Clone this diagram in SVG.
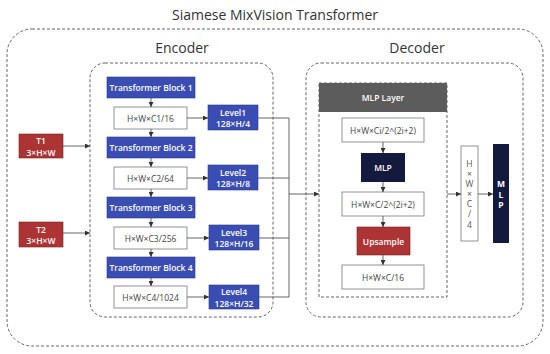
<svg xmlns="http://www.w3.org/2000/svg" width="550" height="354" viewBox="0 0 550 354">
<style>
text{font-family:"Open Sans","Noto Sans","Liberation Sans",sans-serif;text-anchor:middle;dominant-baseline:central}
.title{font-size:14px;fill:#333}
.dash{fill:none;stroke:#555;stroke-width:0.9;stroke-dasharray:3 2}
.blue{fill:#3a4db3;stroke:#2a3890;stroke-width:0.6}
.red{fill:#ad3434;stroke:#7d2222;stroke-width:0.6}
.navy{fill:#141a3e}
.gray{fill:#5c5c5c}
.wbox{fill:#fff;stroke:#777;stroke-width:0.8}
.wt{fill:#fff;font-size:8.5px;font-weight:600}
.bt{fill:#444;font-size:8.5px}
.vt{fill:#555;font-size:8.5px}
.conn{fill:none;stroke:#555;stroke-width:0.9}
</style>
<defs>
<marker id="ah" viewBox="0 0 6 6" refX="6" refY="3" markerWidth="5" markerHeight="5" orient="auto" markerUnits="userSpaceOnUse">
<path d="M0,0L6,3L0,6z" fill="#333"/>
</marker>
</defs>
<rect width="550" height="354" fill="#fff"/>
<text class="title" x="275" y="14">Siamese MixVision Transformer</text>
<rect class="dash" x="7" y="29" width="536" height="317" rx="25"/>
<text class="title" x="182" y="47">Encoder</text>
<text class="title" x="417" y="47">Decoder</text>
<rect class="dash" x="90" y="63" width="183" height="254" rx="15"/>
<rect class="dash" x="306" y="63" width="217" height="254" rx="15"/>
<g id="mlp-layer">
<rect class="dash" x="319" y="83" width="128" height="214"/>
<rect class="gray" x="319" y="83" width="128" height="29"/>
<text class="wt" x="383" y="97.5">MLP Layer</text>
</g>
<g id="t1"><rect class="red" x="19" y="134" width="44" height="24"/><text class="wt" x="41" y="140.5">T1<tspan x="41" dy="11">3×H×W</tspan></text></g>
<g id="t2"><rect class="red" x="19" y="222" width="44" height="25"/><text class="wt" x="41" y="229">T2<tspan x="41" dy="11">3×H×W</tspan></text></g>
<g id="tb1"><rect class="blue" x="107" y="77" width="88" height="21"/><text class="wt" x="151" y="87.5">Transformer Block 1</text></g>
<g id="f1"><rect class="wbox" x="114" y="107" width="73" height="22"/><text class="bt" x="150.5" y="118">H×W×C1/16</text></g>
<g id="tb2"><rect class="blue" x="107" y="137" width="88" height="21"/><text class="wt" x="151" y="147.5">Transformer Block 2</text></g>
<g id="f2"><rect class="wbox" x="114" y="167" width="73" height="22"/><text class="bt" x="150.5" y="178">H×W×C2/64</text></g>
<g id="tb3"><rect class="blue" x="107" y="197" width="88" height="21"/><text class="wt" x="151" y="207.5">Transformer Block 3</text></g>
<g id="f3"><rect class="wbox" x="114" y="227" width="73" height="22"/><text class="bt" x="150.5" y="238">H×W×C3/256</text></g>
<g id="tb4"><rect class="blue" x="107" y="257" width="88" height="21"/><text class="wt" x="151" y="267.5">Transformer Block 4</text></g>
<g id="f4"><rect class="wbox" x="114" y="286" width="73" height="22"/><text class="bt" x="150.5" y="297">H×W×C4/1024</text></g>
<g id="l1"><rect class="blue" x="208" y="105" width="50" height="25"/><text class="wt" x="233" y="112">Level1<tspan x="233" dy="11">128×H/4</tspan></text></g>
<g id="l2"><rect class="blue" x="208" y="165" width="50" height="25"/><text class="wt" x="233" y="172">Level2<tspan x="233" dy="11">128×H/8</tspan></text></g>
<g id="l3"><rect class="blue" x="209" y="225" width="50" height="25"/><text class="wt" x="234" y="232">Level3<tspan x="234" dy="11">128×H/16</tspan></text></g>
<g id="l4"><rect class="blue" x="209" y="285" width="50" height="24"/><text class="wt" x="234" y="291.5">Level4<tspan x="234" dy="11">128×H/32</tspan></text></g>
<g id="d1"><rect class="wbox" x="342" y="118" width="82" height="24"/><text class="bt" x="383" y="130">H×W×Ci/2^(2i+2)</text></g>
<g id="mlp"><rect class="navy" x="361" y="153" width="44" height="29"/><text class="wt" x="383" y="167.5">MLP</text></g>
<g id="d2"><rect class="wbox" x="342" y="192" width="82" height="24"/><text class="bt" x="383" y="204">H×W×C/2^(2i+2)</text></g>
<g id="ups"><rect class="red" x="357" y="227" width="53" height="28"/><text class="wt" x="383.5" y="241">Upsample</text></g>
<g id="d3"><rect class="wbox" x="342" y="265" width="82" height="24"/><text class="bt" x="383" y="277">H×W×C/16</text></g>
<g id="d4"><rect class="wbox" x="461" y="146" width="17" height="95"/>
<text class="vt" x="469.5" y="163">H<tspan x="469.5" dy="10">×</tspan><tspan x="469.5" dy="10">W</tspan><tspan x="469.5" dy="10">×</tspan><tspan x="469.5" dy="9.5">C</tspan><tspan x="469.5" dy="10">/</tspan><tspan x="469.5" dy="11">4</tspan></text></g>
<g id="mlp2"><rect class="navy" x="493" y="144" width="16" height="99"/>
<text class="wt" x="501" y="183" style="font-weight:bold">M<tspan x="501" dy="10.5">L</tspan><tspan x="501" dy="10.5">P</tspan></text></g>
<g id="connectors">
<path class="conn" marker-end="url(#ah)" d="M63,146H90"/>
<path class="conn" marker-end="url(#ah)" d="M63,233H90"/>
<path class="conn" marker-end="url(#ah)" d="M151,98V107"/>
<path class="conn" marker-end="url(#ah)" d="M151,129V137"/>
<path class="conn" marker-end="url(#ah)" d="M151,158V167"/>
<path class="conn" marker-end="url(#ah)" d="M151,189V197"/>
<path class="conn" marker-end="url(#ah)" d="M151,218V227"/>
<path class="conn" marker-end="url(#ah)" d="M151,249V257"/>
<path class="conn" marker-end="url(#ah)" d="M151,278V286"/>
<path class="conn" marker-end="url(#ah)" d="M187,118H208"/>
<path class="conn" marker-end="url(#ah)" d="M187,178H208"/>
<path class="conn" marker-end="url(#ah)" d="M187,238H209"/>
<path class="conn" marker-end="url(#ah)" d="M187,297H209"/>
<path class="conn" d="M258,118H289V297H259M258,178H289M259,238H289"/>
<path class="conn" marker-end="url(#ah)" d="M289,194H319"/>
<path class="conn" marker-end="url(#ah)" d="M383,142V153"/>
<path class="conn" marker-end="url(#ah)" d="M383,182V192"/>
<path class="conn" marker-end="url(#ah)" d="M383,216V227"/>
<path class="conn" marker-end="url(#ah)" d="M383,255V265"/>
<path class="conn" marker-end="url(#ah)" d="M447,194H461"/>
<path class="conn" marker-end="url(#ah)" d="M478,194H493"/>
</g>
</svg>
